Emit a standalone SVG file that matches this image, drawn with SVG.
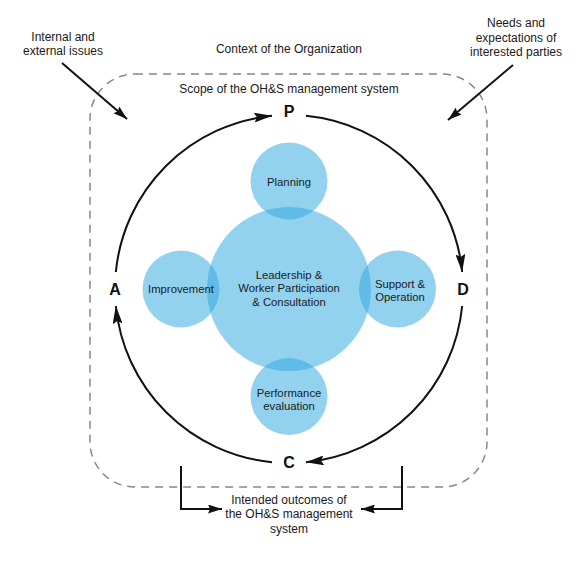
<svg xmlns="http://www.w3.org/2000/svg" width="577" height="578" viewBox="0 0 577 578">
<style>
  .t { font-family: "Liberation Sans", Arial, sans-serif; font-size: 12px; fill: #1a1a1a; text-anchor: middle; }
  .ti { font-family: "Liberation Sans", Arial, sans-serif; font-size: 11.3px; fill: #1a1a1a; text-anchor: middle; }
  .big { font-family: "Liberation Sans", Arial, sans-serif; font-size: 16px; font-weight: bold; fill: #111; text-anchor: middle; }
  .circ { fill: #2fa9e0; fill-opacity: 0.52; }
  .line { fill: none; stroke: #111; stroke-width: 2; }
  .scope { fill: none; stroke: #888; stroke-width: 1.5; stroke-dasharray: 8 6; }
</style>
<defs>
  <marker id="ah" viewBox="0 0 18 10" refX="18" refY="5" markerWidth="18" markerHeight="10" markerUnits="userSpaceOnUse" orient="auto">
    <path d="M0,0 L18,5 L0,10 L3,5 Z" fill="#111"/>
  </marker>
  <marker id="ahs" viewBox="0 0 14 9" refX="14" refY="4.5" markerWidth="14" markerHeight="9" markerUnits="userSpaceOnUse" orient="auto">
    <path d="M0,0 L14,4.5 L0,9 L2,4.5 Z" fill="#111"/>
  </marker>
</defs>
<rect width="577" height="578" fill="#ffffff"/>

<g id="context">
  <text class="t" x="289" y="53">Context of the Organization</text>
</g>
<g id="scope">
  <rect class="scope" x="90" y="74" width="397" height="413" rx="45" ry="45"/>
  <text class="t" x="289" y="93">Scope of the OH&amp;S management system</text>
</g>

<g id="internal-issues">
  <text class="t" x="63" y="41">Internal and</text>
  <text class="t" x="63" y="55">external issues</text>
</g>
<g id="needs">
  <text class="t" x="516" y="27">Needs and</text>
  <text class="t" x="516" y="42">expectations of</text>
  <text class="t" x="516" y="56">interested parties</text>
</g>
<g id="outcomes">
  <text class="t" x="289" y="504">Intended outcomes of</text>
  <text class="t" x="289" y="518">the OH&amp;S management</text>
  <text class="t" x="289" y="533">system</text>
</g>

<g id="leadership">
  <circle class="circ" cx="289" cy="289" r="82"/>
  <text class="ti" x="289" y="279">Leadership &amp;</text>
  <text class="ti" x="289" y="292">Worker Participation</text>
  <text class="ti" x="289" y="306">&amp; Consultation</text>
</g>
<g id="planning">
  <circle class="circ" cx="289" cy="181" r="38.5"/>
  <text class="ti" x="289" y="186">Planning</text>
</g>
<g id="improvement">
  <circle class="circ" cx="181" cy="289" r="38.5"/>
  <text class="ti" x="181" y="293">Improvement</text>
</g>
<g id="support">
  <circle class="circ" cx="397.5" cy="289" r="38.5"/>
  <text class="ti" x="400" y="288">Support &amp;</text>
  <text class="ti" x="400" y="301">Operation</text>
</g>
<g id="performance">
  <circle class="circ" cx="289" cy="396.5" r="38.5"/>
  <text class="ti" x="289" y="397">Performance</text>
  <text class="ti" x="289" y="410">evaluation</text>
</g>

<g id="P"><text class="big" x="289" y="117">P</text></g>
<g id="D"><text class="big" x="463" y="295">D</text></g>
<g id="C"><text class="big" x="289" y="468">C</text></g>
<g id="A"><text class="big" x="115" y="295">A</text></g>

<g id="connectors">
  <path class="line" d="M115.83,272.02 A174,174 0 0 1 272.02,115.83" marker-end="url(#ah)"/>
  <path class="line" d="M305.98,115.83 A174,174 0 0 1 462.17,272.02" marker-end="url(#ah)"/>
  <path class="line" d="M462.17,305.98 A174,174 0 0 1 305.98,462.17" marker-end="url(#ah)"/>
  <path class="line" d="M272.02,462.17 A174,174 0 0 1 115.83,305.98" marker-end="url(#ah)"/>
  <path class="line" d="M62,63 L127,119" marker-end="url(#ahs)"/>
  <path class="line" d="M513,65 L448,120" marker-end="url(#ahs)"/>
  <path class="line" d="M181,466 V509 H222" marker-end="url(#ahs)"/>
  <path class="line" d="M402,466 V509 H361" marker-end="url(#ahs)"/>
</g>
</svg>
